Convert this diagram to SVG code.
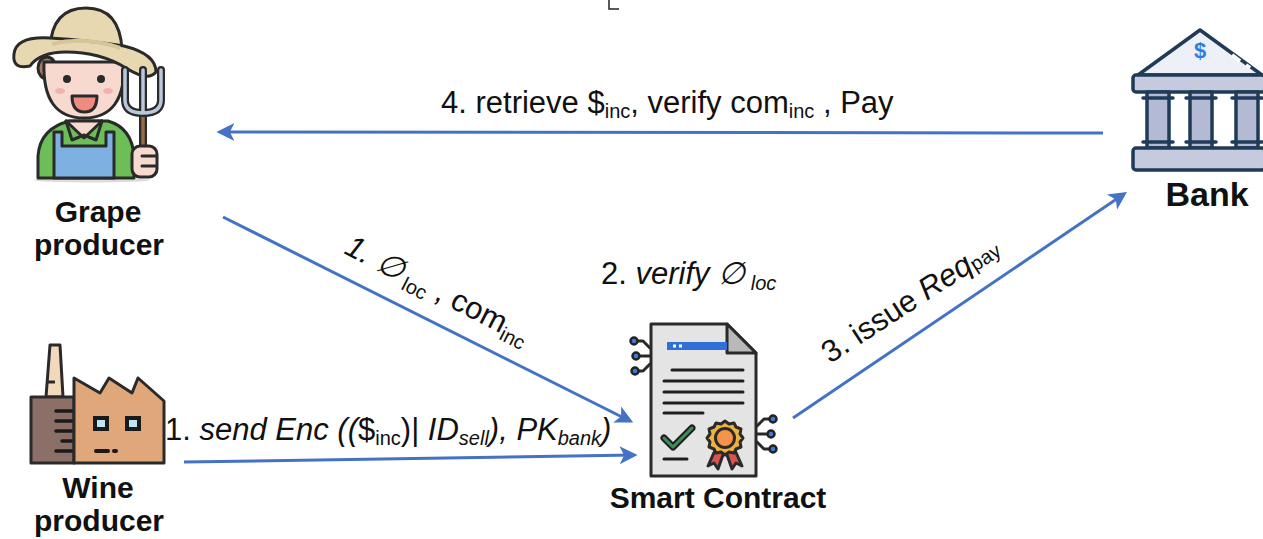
<svg xmlns="http://www.w3.org/2000/svg" width="1263" height="539" viewBox="0 0 1263 539">
  <defs>
    <style>
      .lbl { font-family: "Liberation Sans", Arial, sans-serif; font-size: 31px; fill: #111; }
      .name { font-family: "Liberation Sans", Arial, sans-serif; font-size: 30px; font-weight: bold; fill: #111; text-anchor: middle; }
      .it { font-style: italic; }
      .sub { font-size: 20px; }
      .edge { fill: none; stroke: #4472C4; stroke-width: 3; marker-end: url(#arrow); }
      .ol { stroke: #2a2a2a; stroke-width: 3; stroke-linejoin: round; stroke-linecap: round; }
      .bk { stroke: #1f3b57; stroke-width: 3.5; stroke-linejoin: round; stroke-linecap: round; }
    </style>
    <marker id="arrow" viewBox="0 0 10 10" refX="8" refY="5" markerWidth="6" markerHeight="6" orient="auto" markerUnits="strokeWidth">
      <path d="M0,0 L10,5 L0,10 L2.5,5 Z" fill="#4472C4"/>
    </marker>
  </defs>

  <rect width="1263" height="539" fill="#ffffff"/>

  <!-- small corner tick at the top edge -->
  <path d="M609,0 L609,9 L619,9" fill="none" stroke="#222" stroke-width="1.5"/>

  <!-- connectors -->
  <g id="connectors">
    <line class="edge" x1="1103" y1="133" x2="220" y2="132"/>
    <line class="edge" x1="223" y1="217" x2="630" y2="421"/>
    <line class="edge" x1="184" y1="462" x2="634" y2="455"/>
    <line class="edge" x1="793" y1="418" x2="1124" y2="194"/>
  </g>

  <!-- edge labels -->
  <g id="edge-labels">
    <text class="lbl" x="441" y="113">4. retrieve $<tspan class="sub" dy="5">inc</tspan><tspan dy="-5">, verify com</tspan><tspan class="sub" dy="5">inc</tspan><tspan dy="-5"> , Pay</tspan></text>
    <text class="lbl" x="165" y="440">1. <tspan class="it">send Enc ((</tspan>$<tspan class="sub" dy="5">inc</tspan><tspan dy="-5">)| </tspan><tspan class="it">ID</tspan><tspan class="sub it" dy="5">sell</tspan><tspan class="it" dy="-5">), PK</tspan><tspan class="sub it" dy="5">bank</tspan><tspan class="it" dy="-5">)</tspan></text>
    <text class="lbl" x="601" y="284">2. <tspan class="it">verify ∅</tspan><tspan class="sub it" dy="6"> loc</tspan></text>
    <text class="lbl" transform="translate(343,253) rotate(27)"><tspan class="it">1. ∅</tspan><tspan class="sub" dy="6"> loc</tspan><tspan dy="-6"> , com</tspan><tspan class="sub" dy="6">inc</tspan></text>
    <text class="lbl" transform="translate(830,364) rotate(-33)">3. issue <tspan class="it">Req</tspan><tspan class="sub" dy="2">pay</tspan></text>
  </g>

  <!-- grape producer -->
  <g id="grape-producer">
    <ellipse cx="92" cy="180" rx="58" ry="2.5" fill="#dcdcdc"/>
    <!-- shirt -->
    <path class="ol" d="M38,178 L38,156 Q40,128 70,121 L108,121 Q132,128 134,156 L134,178 Z" fill="#6DBE58"/>
    <!-- overalls -->
    <path class="ol" d="M54,178 L54,132 L62,132 L62,146 L106,146 L106,132 L114,132 L114,178 Z" fill="#7EB0E2"/>
    <!-- collar -->
    <path class="ol" d="M66,121 L84,138 L102,121 Z" fill="#F7D9CF"/>
    <path class="ol" d="M66,121 L72,140 L84,135 M102,121 L96,140 L84,135" fill="none"/>
    <!-- hair / ears -->
    <ellipse class="ol" cx="47" cy="68" rx="9" ry="11" fill="#A87A5E"/>
    <ellipse class="ol" cx="119" cy="68" rx="9" ry="11" fill="#A87A5E"/>
    <!-- face -->
    <path class="ol" d="M44,62 Q42,118 84,118 Q126,118 124,62 Z" fill="#F7D9CF"/>
    <circle cx="67" cy="79" r="4" fill="#2a2a2a"/>
    <circle cx="101" cy="79" r="4" fill="#2a2a2a"/>
    <ellipse cx="60" cy="91" rx="5" ry="3" fill="#F2B2B0"/>
    <ellipse cx="108" cy="91" rx="5" ry="3" fill="#F2B2B0"/>
    <path class="ol" d="M72,96 L97,96 Q97,112 84.5,112 Q72,112 72,96 Z" fill="#F08B80"/>
    <!-- hat -->
    <path class="ol" d="M50,48 Q52,8 86,8 Q120,8 122,50 Z" fill="#E8D8B2"/>
    <path class="ol" d="M14,54 Q16,36 50,38 Q86,40 124,46 Q156,54 156,72 Q148,82 126,68 Q100,52 66,52 Q40,52 30,66 Q12,70 14,54 Z" fill="#E8D8B2"/>
    <path d="M52,44 Q86,36 120,48" fill="none" stroke="#D8C499" stroke-width="4"/>
    <!-- pitchfork -->
    <path d="M143,112 L143,152" stroke="#2a2a2a" stroke-width="8" stroke-linecap="round"/>
    <path d="M143,114 L143,150" stroke="#9A6A44" stroke-width="3.5"/>
    <path d="M125,70 L125,100 Q125,113 143,113 Q161,113 161,100 L161,70 M143,70 L143,113" fill="none" stroke="#2a2a2a" stroke-width="8" stroke-linecap="round" stroke-linejoin="round"/>
    <path d="M125,70 L125,100 Q125,113 143,113 Q161,113 161,100 L161,70 M143,70 L143,113" fill="none" stroke="#BAC8DC" stroke-width="3.5" stroke-linecap="round" stroke-linejoin="round"/>
    <!-- hand -->
    <rect class="ol" x="132" y="146" width="25" height="31" rx="8" fill="#F7D9CF"/>
    <path class="ol" d="M142,156 L156,156 M142,166 L156,166" fill="none"/>
    <text class="name" x="98" y="222">Grape</text>
    <text class="name" x="99" y="255">producer</text>
  </g>

  <!-- wine producer -->
  <g id="wine-producer">
    <path class="ol" d="M46,397 L50,345 L60,345 L63,397 Z" fill="#F2D9BE" stroke-width="4"/>
    <path d="M47,382 L55,382" stroke="#2a2a2a" stroke-width="3"/>
    <rect class="ol" x="31" y="397" width="43" height="66" fill="#8C7068" stroke-width="4"/>
    <path d="M56,411 L72,411 M56,421 L72,421 M56,431 L72,431 M62,441 L72,441 M56,451 L72,451" stroke="#1a1a1a" stroke-width="3.5" stroke-linecap="round"/>
    <path class="ol" d="M74,378 L100,393 L109,378 L132,393 L138,378 L164,401 L164,463 L74,463 Z" fill="#E0A77A" stroke-width="4"/>
    <rect x="95" y="418" width="12" height="11" fill="#BFE4F2" stroke="#1a1a1a" stroke-width="4"/>
    <rect x="127" y="418" width="12" height="11" fill="#BFE4F2" stroke="#1a1a1a" stroke-width="4"/>
    <path d="M96,451 L108,451 M114,451 L116,451" stroke="#1a1a1a" stroke-width="4" stroke-linecap="round"/>
    <text class="name" x="98" y="498">Wine</text>
    <text class="name" x="99" y="531">producer</text>
  </g>

  <!-- bank -->
  <g id="bank">
    <path class="bk" d="M1138,75 L1200,30 L1262,75 Z" fill="#EEF0F8"/>
    <path d="M1232,55 L1240,61 M1246,65 L1250,68" stroke="#ffffff" stroke-width="4"/>
    <text x="1200" y="58" font-family="Liberation Sans, Arial, sans-serif" font-size="22" font-weight="bold" fill="#2F7DE1" text-anchor="middle">$</text>
    <rect class="bk" x="1133" y="75" width="132" height="17" rx="3" fill="#C6CADF"/>
    <rect class="bk" x="1147" y="92" width="22" height="56" fill="#B5BAD4"/>
    <rect class="bk" x="1190" y="92" width="22" height="56" fill="#B5BAD4"/>
    <rect class="bk" x="1236" y="92" width="22" height="56" fill="#B5BAD4"/>
    <path class="bk" d="M1143,98 L1173,98 M1186,98 L1216,98 M1232,98 L1262,98 M1143,142 L1173,142 M1186,142 L1216,142 M1232,142 L1262,142" fill="none"/>
    <rect class="bk" x="1133" y="148" width="132" height="22" rx="3" fill="#C6CADF"/>
    <text class="name" x="1207" y="206" style="font-size:34px">Bank</text>
  </g>

  <!-- smart contract -->
  <g id="smart-contract">
    <!-- circuit nodes -->
    <path class="ol" d="M650,356 L641,356 M650,348 L643,341 L638,341 M650,364 L643,371 L639,371" fill="none" stroke-width="2.5"/>
    <circle cx="634" cy="341" r="3.5" fill="#3D7DD8" stroke="#222" stroke-width="2.5"/>
    <circle cx="636" cy="356" r="3.5" fill="#3D7DD8" stroke="#222" stroke-width="2.5"/>
    <circle cx="635" cy="371" r="3.5" fill="#3D7DD8" stroke="#222" stroke-width="2.5"/>
    <path class="ol" d="M757,434 L766,434 M757,426 L764,419 L769,419 M757,442 L764,449 L769,449" fill="none" stroke-width="2.5"/>
    <circle cx="773" cy="419" r="3.5" fill="#3D7DD8" stroke="#222" stroke-width="2.5"/>
    <circle cx="771" cy="434" r="3.5" fill="#3D7DD8" stroke="#222" stroke-width="2.5"/>
    <circle cx="773" cy="449" r="3.5" fill="#3D7DD8" stroke="#222" stroke-width="2.5"/>
    <!-- page -->
    <path class="ol" d="M651,324 L727,324 L756,353 L756,476 L651,476 Z" fill="#E4E4E4" stroke="#1e1e1e" stroke-width="3.5"/>
    <path class="ol" d="M727,324 L727,353 L756,353 Z" fill="#B9B9B9" stroke="#1e1e1e" stroke-width="3"/>
    <rect x="667" y="342" width="60" height="8" fill="#2F6FD6"/>
    <path d="M673,346 L676,346 M679,346 L682,346" stroke="#ffffff" stroke-width="3"/>
    <path d="M672,370 L743,370 M664,381 L743,381 M664,392 L743,392 M664,403 L743,403 M664,413 L703,413" stroke="#1e1e1e" stroke-width="3" stroke-linecap="round"/>
    <path d="M664,438 L673,447 L692,428" fill="none" stroke="#1e1e1e" stroke-width="7" stroke-linecap="round" stroke-linejoin="round"/>
    <path d="M664,438 L673,447 L692,428" fill="none" stroke="#3E8E5C" stroke-width="3" stroke-linecap="round" stroke-linejoin="round"/>
    <path d="M664,459 L687,459" stroke="#1e1e1e" stroke-width="3" stroke-linecap="round"/>
    <!-- seal -->
    <path class="ol" d="M716,448 L708,466 L714,463 L718,469 L724,452 Z M734,448 L742,466 L736,463 L732,469 L726,452 Z" fill="#D9534F" stroke-width="2.5"/>
    <polygon class="ol" stroke-width="2.5" fill="#EDB33E" points="725,421 729,424 734,423 736,427 741,429 740,434 743,438 740,442 741,447 736,449 734,453 729,452 725,455 721,452 716,453 714,449 709,447 710,442 707,438 710,434 709,429 714,427 716,423 721,424"/>
    <circle class="ol" cx="725" cy="438" r="9.5" fill="#F5944A" stroke-width="2.5"/>
    <text class="name" x="718" y="508">Smart Contract</text>
  </g>
</svg>
